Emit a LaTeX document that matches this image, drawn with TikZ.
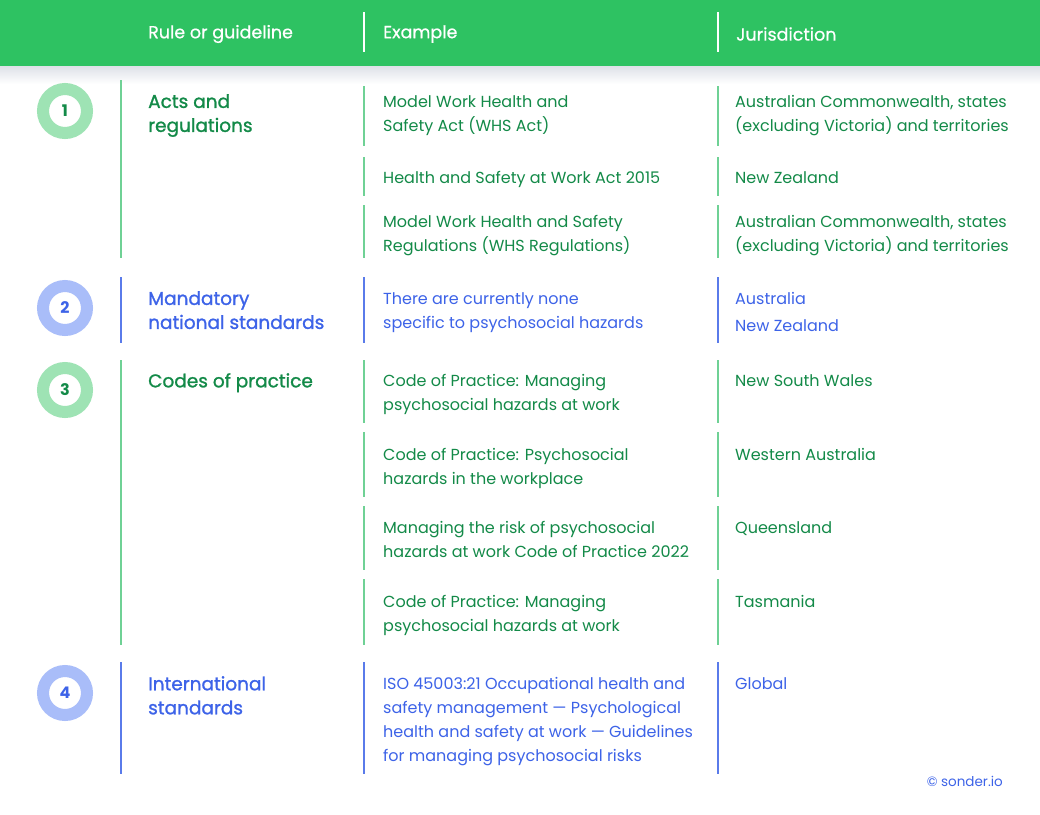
\documentclass[tikz,border=0pt]{standalone}
\usepackage{fontspec}
\setmainfont{Poppins}
\newfontfamily\semib{Poppins}[FakeBold=1.2]
\newfontfamily\medb{Poppins}[FakeBold=0.6]
\definecolor{hdr}{HTML}{2EC262}
\definecolor{dg}{HTML}{138A48}
\definecolor{bl}{HTML}{3D63E8}
\definecolor{lg}{HTML}{9EE3B4}
\definecolor{lb}{HTML}{A9BDF9}
\definecolor{gl}{HTML}{6FD195}
\definecolor{bll}{HTML}{5A7BEA}
\begin{document}
\begin{tikzpicture}[x=1pt,y=-1pt,
  hd/.style={anchor=west,text=white,font=\medb\fontsize{17.5}{20}\selectfont,inner sep=0},
  ttl/.style={anchor=north west,align=left,inner sep=0,font=\semib\fontsize{18.5}{24}\selectfont},
  txt/.style={anchor=north west,align=left,inner sep=0,font=\fontsize{16}{24}\selectfont},
  num/.style={circle,minimum size=44pt,inner sep=0,fill=white,line width=12pt,font=\fontsize{16}{18}\selectfont\bfseries}]
\useasboundingbox (0,0) rectangle (1040,814);
\fill[white] (0,0) rectangle (1040,814);
\shade[top color={rgb,255:red,222;green,225;blue,232}, bottom color=white] (0,66) rectangle (1040,84);
\fill[hdr] (0,0) rectangle (1040,66);
\draw[white,line width=1.5pt] (364,12) -- (364,52) (718,12) -- (718,52);
\node[hd] (h1) at (148,34) {Rule or guideline};
\node[hd] (h2) at (383,34) {Example};
\node[hd] (h3) at (736,34) {Jurisdiction};
% circles
\node[num,draw=lg,text=dg] (c1) at (65,111) {1};
\node[num,draw=lb,text=bl] (c2) at (65,308) {2};
\node[num,draw=lg,text=dg] (c3) at (65,390) {3};
\node[num,draw=lb,text=bl] (c4) at (65,693) {4};
% section lines
\foreach \a/\b/\c in {80/258/gl,277/343/bll,360/645/gl,662/774/bll}
  \draw[\c,line width=1.2pt] (121,\a) -- (121,\b);
\foreach \a/\b/\c in {86/146/gl,157/196/gl,205/258/gl,277/343/bll,360/423/gl,432/497/gl,506/570/gl,579/645/gl,662/774/bll}
  {\draw[\c,line width=1.2pt] (364,\a) -- (364,\b); \draw[\c,line width=1.2pt] (718,\a) -- (718,\b);}
% titles
\node[ttl,text=dg] (t1) at (148,94) {Acts and\\regulations};
\node[ttl,text=bl] (t2) at (148,291) {Mandatory\\national standards};
\node[ttl,text=dg] (t3) at (148,373) {Codes of practice};
\node[ttl,text=bl] (t4) at (148,676) {International\\standards};
% examples
\node[txt,text=dg] (e1) at (383,95) {Model Work Health and\\Safety Act (WHS Act)};
\node[txt,text=dg] (e2) at (383,171) {Health and Safety at Work Act 2015};
\node[txt,text=dg] (e3) at (383,215) {Model Work Health and Safety\\Regulations (WHS Regulations)};
\node[txt,text=bl] (e4) at (383,292) {There are currently none\\specific to psychosocial hazards};
\node[txt,text=dg] (e5) at (383,374) {Code of Practice: Managing\\psychosocial hazards at work};
\node[txt,text=dg] (e6) at (383,448) {Code of Practice: Psychosocial\\hazards in the workplace};
\node[txt,text=dg] (e7) at (383,521) {Managing the risk of psychosocial\\hazards at work Code of Practice 2022};
\node[txt,text=dg] (e8) at (383,595) {Code of Practice: Managing\\psychosocial hazards at work};
\node[txt,text=bl] (e9) at (383,677) {ISO 45003:21 Occupational health and\\safety management — Psychological\\health and safety at work — Guidelines\\for managing psychosocial risks};
% jurisdictions
\node[txt,text=dg] (j1) at (735,95) {Australian Commonwealth, states\\(excluding Victoria) and territories};
\node[txt,text=dg] (j2) at (735,171) {New Zealand};
\node[txt,text=dg] (j3) at (735,215) {Australian Commonwealth, states\\(excluding Victoria) and territories};
\node[txt,text=bl,font=\fontsize{16}{27}\selectfont] (j4) at (735,292) {Australia\\New Zealand};
\node[txt,text=dg] (j5) at (735,374) {New South Wales};
\node[txt,text=dg] (j6) at (735,448) {Western Australia};
\node[txt,text=dg] (j7) at (735,521) {Queensland};
\node[txt,text=dg] (j8) at (735,595) {Tasmania};
\node[txt,text=bl] (j9) at (735,677) {Global};
\node[anchor=east,inner sep=0,text=bl,font=\fontsize{13.5}{14}\selectfont] (cr) at (1003,781) {© sonder.io};
\end{tikzpicture}
\end{document}
